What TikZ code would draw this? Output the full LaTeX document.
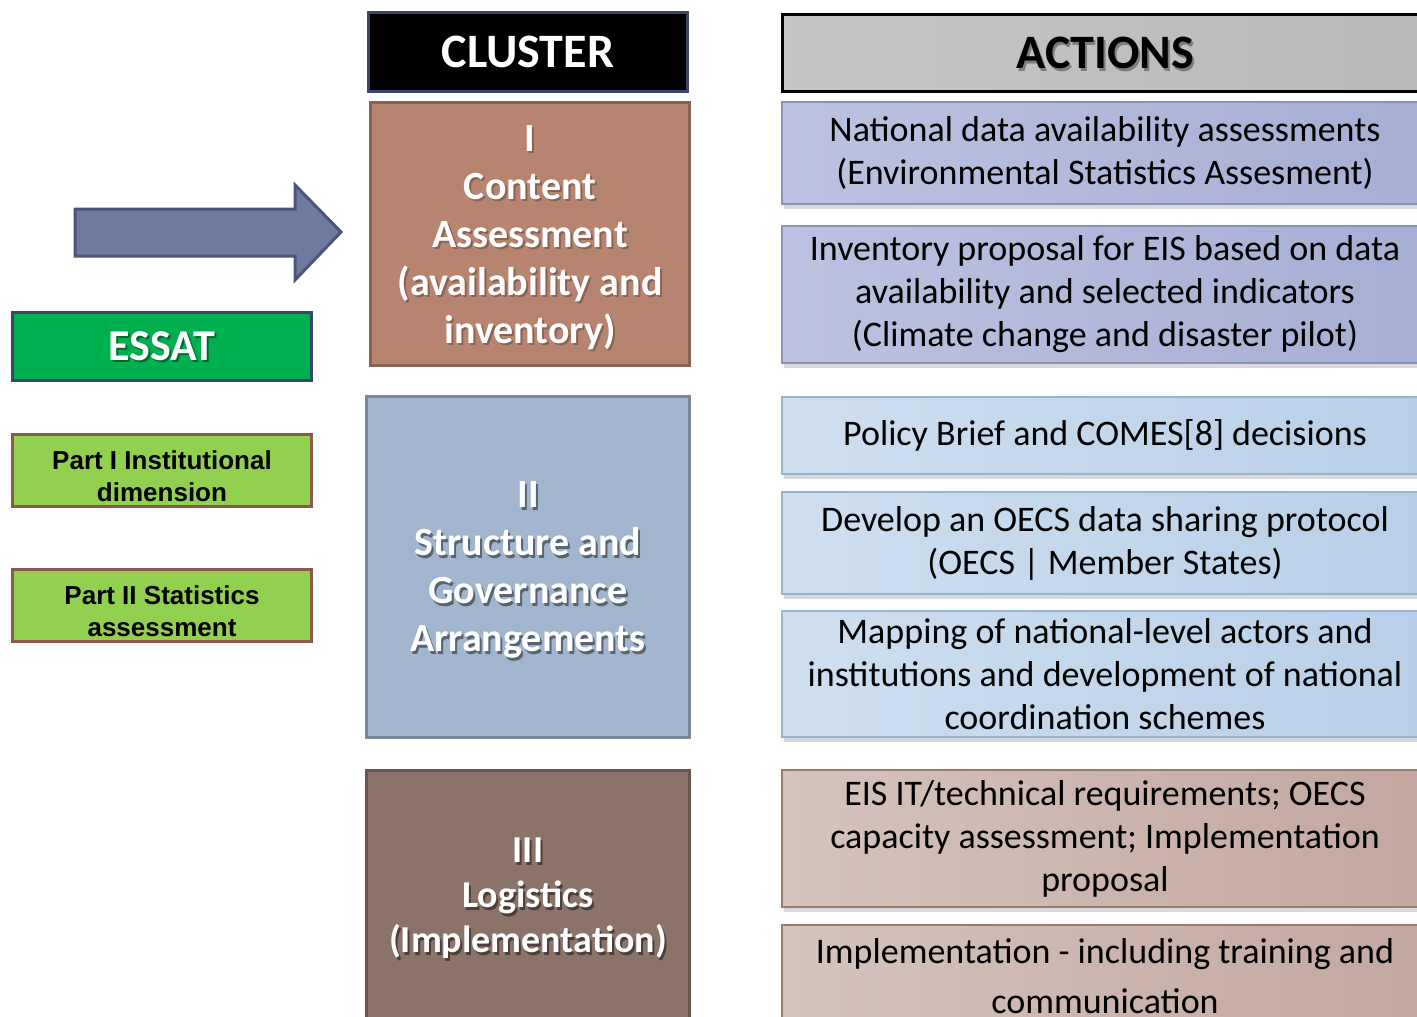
\documentclass[tikz,border=0pt]{standalone}
\usepackage{fontspec}
\setmainfont{Carlito}
\newfontfamily\arialfont{Liberation Sans}
\usetikzlibrary{positioning,shadows}

\definecolor{headborder}{HTML}{3D4668}
\definecolor{brownI}{HTML}{B78470}
\definecolor{blueII}{HTML}{A1B6CE}
\definecolor{brownIII}{HTML}{8C7369}
\definecolor{essatgreen}{HTML}{00AF50}
\definecolor{partgreen}{HTML}{92D050}
\definecolor{partborder}{HTML}{8C5A48}
\definecolor{arrowfill}{HTML}{6F7AA0}
\definecolor{arrowborder}{HTML}{4B5577}
\definecolor{lavleft}{HTML}{BCC2E0}
\definecolor{lavright}{HTML}{A6AED4}
\definecolor{lavborder}{HTML}{8890BE}
\definecolor{skyleft}{HTML}{CEDFF0}
\definecolor{skyright}{HTML}{B8CFE8}
\definecolor{skyborder}{HTML}{98B3D3}
\definecolor{roseleft}{HTML}{D6C3BD}
\definecolor{roseright}{HTML}{C2A79F}
\definecolor{roseborder}{HTML}{9C7A70}

\begin{document}
\begin{tikzpicture}[x=1pt,y=-1pt,
	headbox/.style={draw=#1, line width=3pt, anchor=north west, inner sep=0pt},
	clusterbox/.style={draw=#1!75!black, fill=#1, line width=3pt, anchor=north west, inner sep=0pt},
	clustertext/.style={text=white, font=\fontsize{40}{48}\selectfont\bfseries, align=center},
	textshadow/.style={text=black, text opacity=.45, font=\fontsize{40}{48}\selectfont\bfseries, align=center},
	actionbox/.style={draw=#1, line width=2pt, anchor=north west, minimum width=646pt, inner sep=0pt,
		font=\fontsize{36}{43}\selectfont, align=center,
		drop shadow={shadow xshift=2pt, shadow yshift=-5pt, opacity=.3}},
	partbox/.style={draw=partborder, fill=partgreen, line width=3pt, anchor=north west,
		minimum width=299pt, minimum height=72pt, inner sep=0pt},
	parttext/.style={font=\arialfont\bfseries\fontsize{26}{32}\selectfont, align=center},
	arrowshape/.style={draw=arrowborder, fill=arrowfill, line width=3pt, line join=miter}
	]
	\useasboundingbox (0,0) rectangle (1417,1017);
	\clip (0,0) rectangle (1417,1017);
	
	% headers
	\node[headbox=headborder, fill=black, minimum width=319pt, minimum height=79pt] (cluster) at (367,11) {};
	\node[text=white, font=\fontsize{48}{58}\selectfont\bfseries] (clustertitle) at (cluster.center) {CLUSTER};
	
	\node[headbox=black, left color=gray!45, middle color=gray!70, right color=gray!55, minimum width=646pt, minimum height=77pt] (actions) at (781,13) {};
	\node[text=black, text opacity=.35, font=\fontsize{48}{58}\selectfont\bfseries] (actionsshadow) at ([shift={(2,3)}]actions.center) {ACTIONS};
	\node[font=\fontsize{48}{58}\selectfont\bfseries] (actionstitle) at (actions.center) {ACTIONS};
	
	% left column
	\draw[arrowshape] (75,209) -- (295,209) -- (295,185) -- (341,232) -- (295,280) -- (295,256) -- (75,256) -- cycle;
	
	\node[headbox=headborder, fill=essatgreen, minimum width=299pt, minimum height=68pt] (essat) at (11,311) {};
	\node[text=black, text opacity=.4, font=\fontsize{44}{52}\selectfont\bfseries] (essatshadow) at ([shift={(2,2)}]essat.center) {ESSAT};
	\node[text=white, font=\fontsize{44}{52}\selectfont\bfseries] (essattitle) at (essat.center) {ESSAT};
	
	\node[partbox] (part1) at (11,433) {};
	\node[parttext] (part1text) at ([shift={(0,6)}]part1.center) {Part I Institutional\\dimension};
	\node[partbox] (part2) at (11,568) {};
	\node[parttext] (part2text) at ([shift={(0,6)}]part2.center) {Part II Statistics\\assessment};
	
	% clusters
	\node[clusterbox=brownI, minimum width=319pt, minimum height=263pt] (c1) at (369,101) {};
	\node[textshadow, text opacity=.25] (c1shadow) at ([shift={(2,6)}]c1.center) {I\\Content\\Assessment\\(availability and\\inventory)};
	\node[clustertext] (c1text) at ([shift={(0,4)}]c1.center) {I\\Content\\Assessment\\(availability and\\inventory)};
	
	\node[clusterbox=blueII, minimum width=323pt, minimum height=341pt] (c2) at (365,395) {};
	\node[textshadow] (c2shadow) at ([shift={(2,6)}]c2.center) {II\\Structure and\\Governance\\Arrangements};
	\node[clustertext] (c2text) at ([shift={(0,3)}]c2.center) {II\\Structure and\\Governance\\Arrangements};
	
	\node[clusterbox=brownIII, minimum width=323pt, minimum height=253pt] (c3) at (365,769) {};
	\node[textshadow, font=\fontsize{38}{45}\selectfont\bfseries] (c3shadow) at ([shift={(2,4)}]c3.center) {III\\Logistics\\(Implementation)};
	\node[clustertext, font=\fontsize{38}{45}\selectfont\bfseries] (c3text) at ([shift={(0,1)}]c3.center) {III\\Logistics\\(Implementation)};
	
	% actions
	\node[actionbox=lavborder, left color=lavleft, right color=lavright, minimum height=102pt] (a1) at (781,101)
		{National data availability assessments\\(Environmental Statistics Assesment)};
	\node[actionbox=lavborder, left color=lavleft, right color=lavright, minimum height=137pt] (a2) at (781,225)
		{Inventory proposal for EIS based on data\\availability and selected indicators\\(Climate change and disaster pilot)};
	\node[actionbox=skyborder, left color=skyleft, right color=skyright, minimum height=77pt] (a3) at (781,396)
		{Policy Brief and COMES[8] decisions};
	\node[actionbox=skyborder, left color=skyleft, right color=skyright, minimum height=102pt] (a4) at (781,491)
		{Develop an OECS data sharing protocol\\(OECS | Member States)};
	\node[actionbox=skyborder, left color=skyleft, right color=skyright, minimum height=126pt] (a5) at (781,610)
		{Mapping of national-level actors and\\institutions and development of national\\coordination schemes};
	\node[actionbox=roseborder, left color=roseleft, right color=roseright, minimum height=137pt] (a6) at (781,769)
		{EIS IT/technical requirements; OECS\\capacity assessment; Implementation\\proposal};
	\node[actionbox=roseborder, left color=roseleft, right color=roseright, minimum height=102pt, font=\fontsize{36}{50}\selectfont] (a7) at (781,924)
		{Implementation - including training and\\communication};
\end{tikzpicture}
\end{document}
